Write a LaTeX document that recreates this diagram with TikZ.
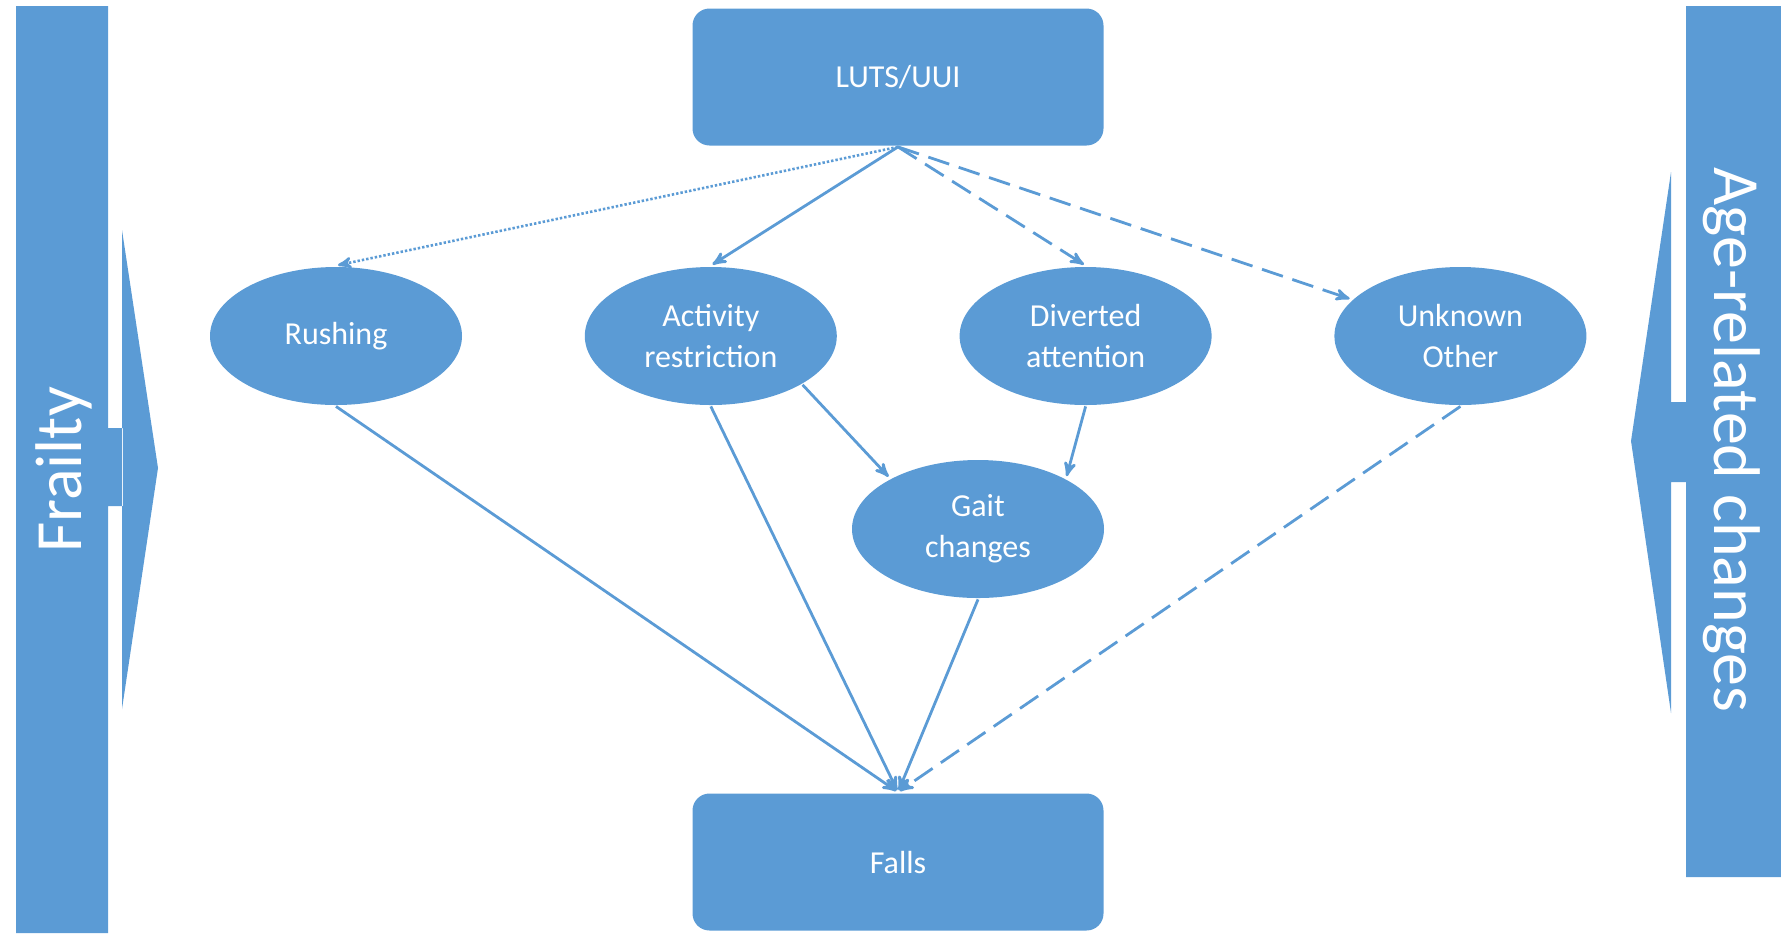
\documentclass[tikz,border=0pt]{standalone}
\usepackage{fontspec}
\setmainfont{Carlito}
\usetikzlibrary{arrows}
\usetikzlibrary{positioning}
\usetikzlibrary{shapes.geometric}
\definecolor{boxblue}{RGB}{91,155,213}

\begin{document}
\begin{tikzpicture}[x=0.5pt,y=-0.5pt,->,>=stealth',shorten >=1pt,node distance=60pt,
                    line width=1.4pt,color=boxblue,
                    main node/.style={rectangle,rounded corners=8.5pt,fill=boxblue,text=white,minimum width=205.5pt,minimum height=68.5pt,font=\fontsize{16}{20}\selectfont},
                    cause node/.style={ellipse,fill=boxblue,text=white,align=center,minimum width=126pt,minimum height=69pt,inner sep=0pt,font=\fontsize{16}{20.5}\selectfont},
                    side label/.style={text=white,font=\fontsize{33}{40}\selectfont},
                    dashed link/.style={dash pattern=on 11pt off 5pt},
                    dotted link/.style={dash pattern=on 1.2pt off 1pt,line width=1.3pt}]
  \useasboundingbox (0,0) rectangle (1781,933);

  % side arrows
  \fill[-] (16,6) rectangle (108,933) (107,428) rectangle (123,506) (122,230) -- (158,468) -- (122,709) -- cycle;
  \node[side label,rotate=90] (frailty) at (64,470) {Frailty};
  \fill[-] (1686,6) rectangle (1781,877) (1670,402) rectangle (1687,482) (1671,172) -- (1631,441) -- (1671,713) -- cycle;
  \node[side label,rotate=-90] (age) at (1732,440) {Age-related changes};

  \node[main node] (luts) at (898,77) {LUTS/UUI};
  \node[main node] (falls) at (898,862) {Falls};
  \node[cause node] (rushing) at (336,336) {Rushing};
  \node[cause node] (activity) [right=of rushing] {Activity\\restriction};
  \node[cause node] (diverted) [right=of activity] {Diverted\\attention};
  \node[cause node] (unknown) [right=of diverted] {Unknown\\Other};
  \node[cause node] (gait) at (978,529) {Gait\\changes};

  \path
    (luts.south) edge[dotted link] (rushing.north)
    (luts.south) edge (activity.north)
    (luts.south) edge[dashed link] (diverted.north)
    (luts.south) edge[dashed link] (unknown)
    (activity.-28) edge (gait.150)
    (diverted.south) edge (gait.30)
    (rushing.south) edge (falls.north)
    (activity.south) edge (falls.north)
    (gait.south) edge (falls.north)
    (unknown.south) edge[dashed link] (falls.north);
\end{tikzpicture}
\end{document}
